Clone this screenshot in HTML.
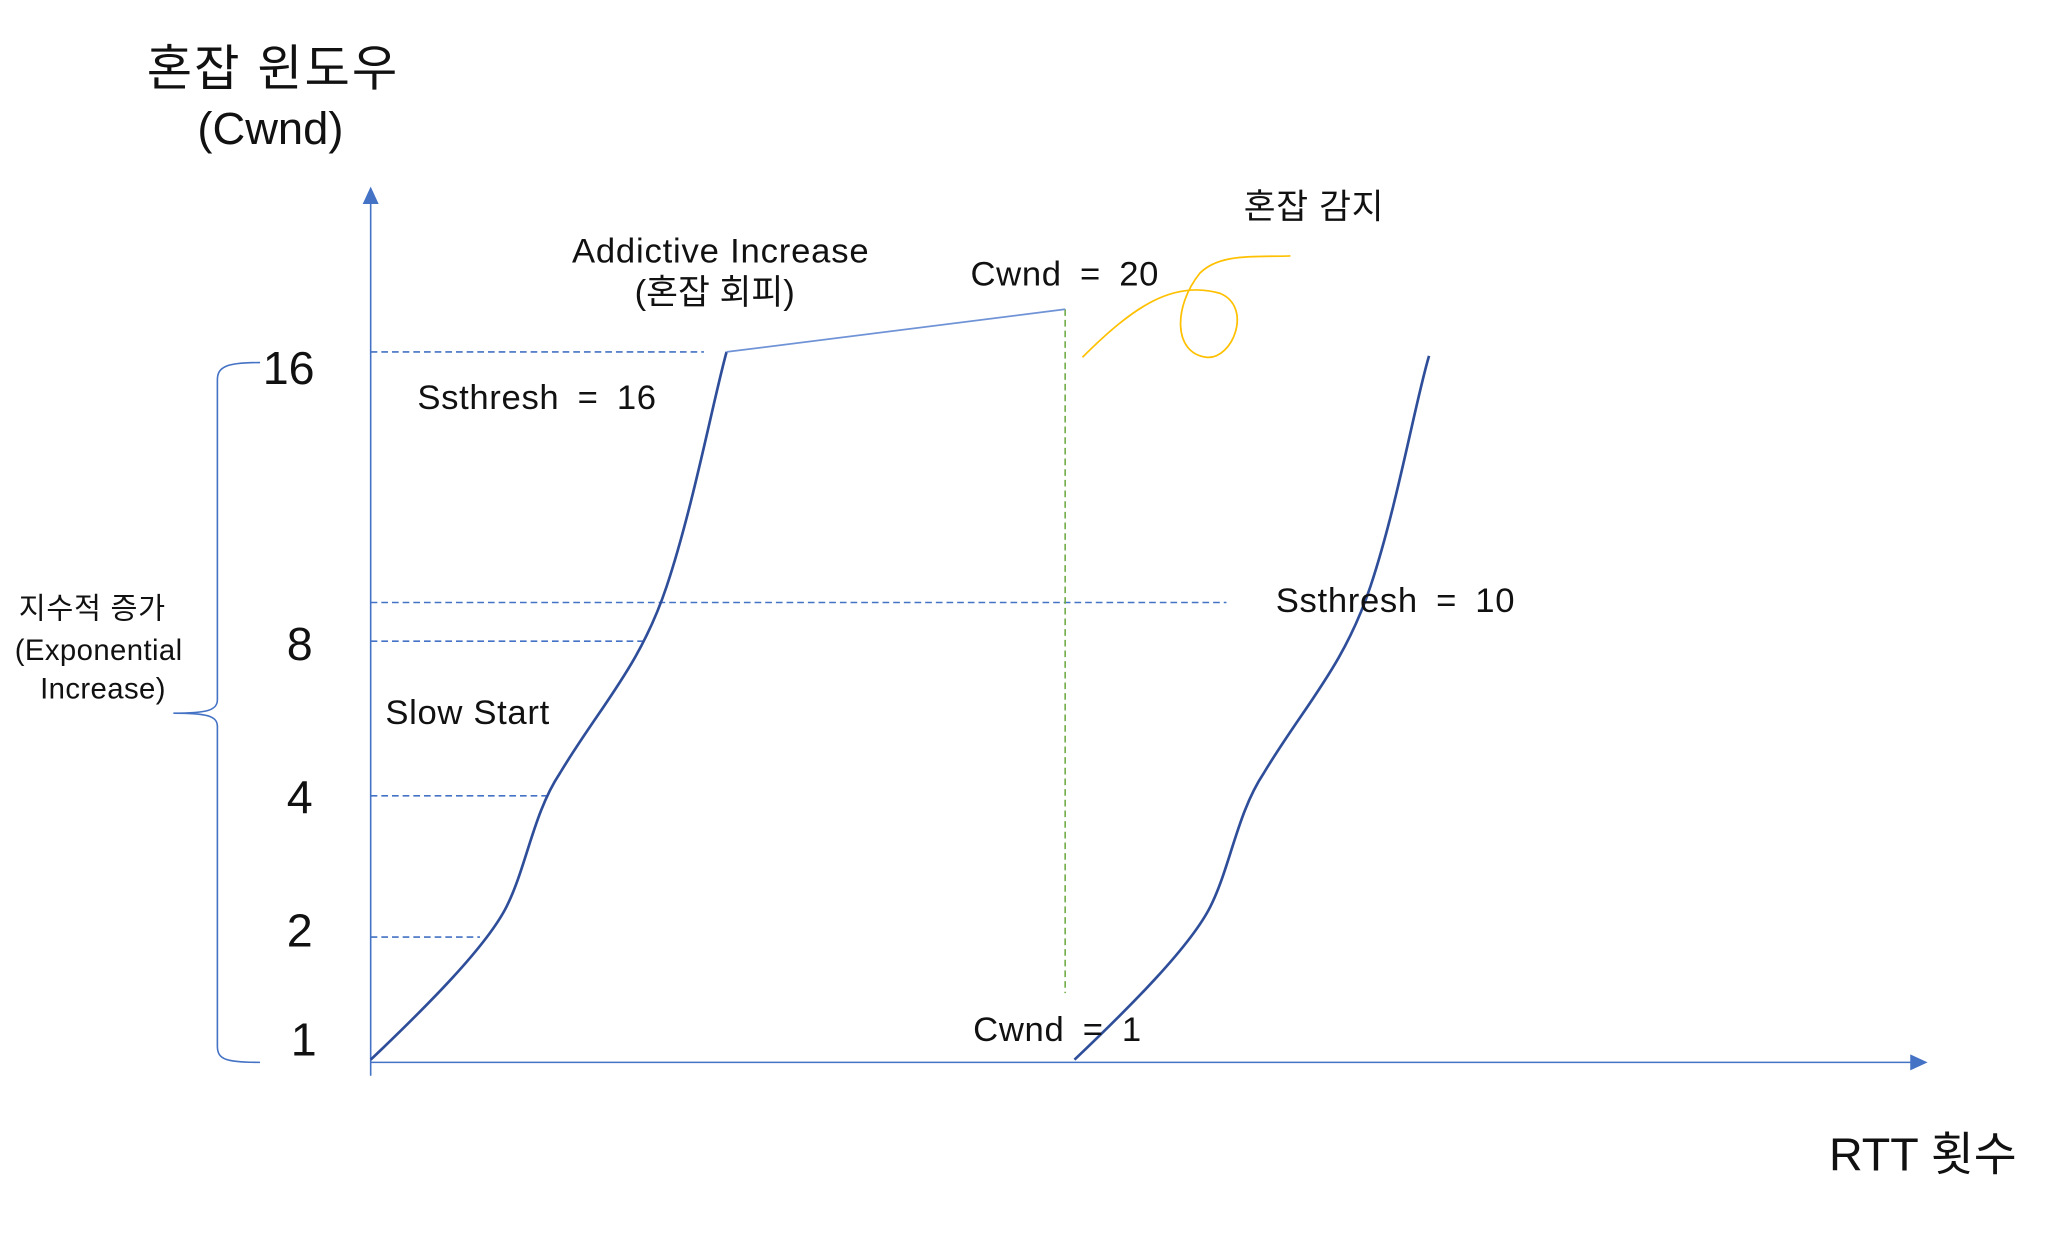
<!DOCTYPE html>
<html><head><meta charset="utf-8"><style>
html,body{margin:0;padding:0;background:#fff;}
svg{display:block;}
text{font-family:"Liberation Sans","Noto Sans CJK KR",sans-serif;fill:#111;}
</style></head><body>
<svg width="2069" height="1241" viewBox="0 0 1552 931" xmlns="http://www.w3.org/2000/svg">
<text x="110" y="64" font-size="37" letter-spacing="1.5">혼잡 윈도우</text>
<text x="148" y="108" font-size="34">(Cwnd)</text>
<!-- axes -->
<line x1="278" y1="150" x2="278" y2="807" stroke="#4472c4" stroke-width="1.2"/>
<polygon points="278,140 272,153 284,153" fill="#4472c4"/>
<line x1="278" y1="797" x2="1436" y2="797" stroke="#4472c4" stroke-width="1.2"/>
<polygon points="1446,797 1433,791 1433,803" fill="#4472c4"/>
<text x="1372" y="878" font-size="35">RTT 횟수</text>
<!-- y labels -->
<text x="197" y="288" font-size="35">16</text>
<text x="215" y="495" font-size="35">8</text>
<text x="215" y="610" font-size="35">4</text>
<text x="215" y="710" font-size="35">2</text>
<text x="218" y="792" font-size="35">1</text>
<!-- dashed -->
<g stroke="#4472c4" stroke-width="1.2" stroke-dasharray="5,3" fill="none">
<line x1="278" y1="264" x2="528" y2="264"/>
<line x1="278" y1="452" x2="920" y2="452"/>
<line x1="278" y1="481" x2="485" y2="481"/>
<line x1="278" y1="597" x2="412" y2="597"/>
<line x1="278" y1="703" x2="360" y2="703"/>
</g>
<line x1="799" y1="232" x2="799" y2="745" stroke="#70ad47" stroke-width="1.2" stroke-dasharray="5,3"/>
<!-- curves -->
<path d="M278,795 C320,755 365,710 380,680 C395,650 400,610 420,580 C450,530 480,500 500,440 C520,380 535,300 545,264" stroke="#2f4e9a" stroke-width="2" fill="none"/>
<line x1="545" y1="264" x2="799" y2="232" stroke="#6f93d6" stroke-width="1.3"/>
<path d="M806,795 C848,755 893,710 908,680 C923,650 928,610 948,580 C978,530 1008,500 1028,440 C1048,380 1062,300 1072,267" stroke="#2f4e9a" stroke-width="2" fill="none"/>
<!-- brace -->
<path d="M195,272 C170,272 163,275 163,285 L163,525 C163,533 155,535 130,535 C155,535 163,537 163,545 L163,785 C163,795 170,797 195,797" stroke="#4472c4" stroke-width="1.2" fill="none"/>
<!-- scribble -->
<path d="M812,268 C850,230 880,210 915,220 C940,230 925,270 905,268 C880,265 880,230 900,205 C915,190 940,193 968,192" stroke="#ffc000" stroke-width="1.3" fill="none"/>
<!-- labels -->
<text x="313" y="307" font-size="26" word-spacing="6" letter-spacing="0.5">Ssthresh = 16</text>
<text x="289" y="543" font-size="26" letter-spacing="0.5">Slow Start</text>
<text x="429" y="197" font-size="26" letter-spacing="0.6">Addictive Increase</text>
<text x="476" y="228" font-size="26">(혼잡 회피)</text>
<text x="728" y="214" font-size="26" word-spacing="6" letter-spacing="0.5">Cwnd = 20</text>
<text x="933" y="164" font-size="26" letter-spacing="0.5">혼잡 감지</text>
<text x="957" y="459" font-size="26" word-spacing="6" letter-spacing="0.5">Ssthresh = 10</text>
<text x="730" y="781" font-size="26" word-spacing="6" letter-spacing="0.5">Cwnd = 1</text>
<text x="14" y="464" font-size="22" letter-spacing="0.5">지수적 증가</text>
<text x="11" y="495" font-size="22" letter-spacing="0.3">(Exponential</text>
<text x="30" y="524" font-size="22" letter-spacing="0.3">Increase)</text>
</svg>
</body></html>
